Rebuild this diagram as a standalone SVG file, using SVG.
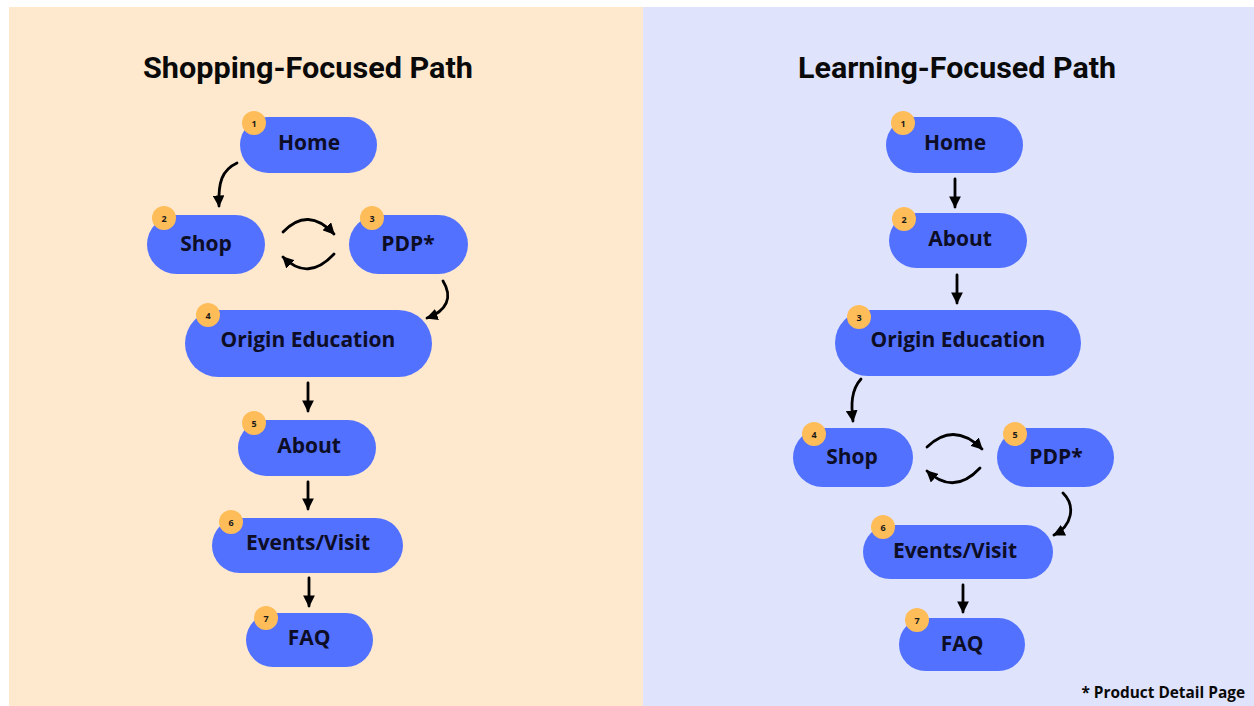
<svg xmlns="http://www.w3.org/2000/svg" width="1254" height="706" viewBox="0 0 1254 706">
  <style>
    .node rect.pill { fill: #5271ff; }
    .node circle { fill: #ffbd59; }
    .label { font-family: "Open Sans", "Liberation Sans", sans-serif; font-weight: 700; font-size: 21px; fill: #0d0d26; text-anchor: middle; dominant-baseline: central; }
    .num { font-family: "Open Sans", "Liberation Sans", sans-serif; font-weight: 700; font-size: 9px; fill: #1a1a1a; text-anchor: middle; dominant-baseline: central; }
    .title { font-family: "Roboto", "Liberation Sans", sans-serif; font-weight: 700; font-size: 30px; fill: #0a0a0a; text-anchor: middle; }
    .conn path, .conn line { fill: none; stroke: #000; stroke-width: 2.8; stroke-linecap: round; marker-end: url(#head); }
  </style>
  <defs>
    <marker id="head" viewBox="0 0 10 10" refX="9" refY="5" markerWidth="4.2" markerHeight="4.2" orient="auto" markerUnits="strokeWidth">
      <path d="M0,0 L10,5 L0,10 Z" fill="#000"/>
    </marker>
  </defs>

  <!-- panels -->
  <rect x="0" y="0" width="1254" height="706" fill="#ffffff"/>
  <rect x="9" y="7" width="634" height="699" fill="#fee9cf"/>
  <rect x="643" y="7" width="611" height="699" fill="#dfe3fc"/>

  <text class="title" x="308" y="78" textLength="330" lengthAdjust="spacingAndGlyphs">Shopping-Focused Path</text>
  <text class="title" x="957" y="78" textLength="318" lengthAdjust="spacingAndGlyphs">Learning-Focused Path</text>

  <!-- shopping path nodes -->
  <g id="s-home" class="node"><rect class="pill" x="240" y="117" width="137" height="56" rx="28"/><circle cx="254" cy="123" r="12"/><text class="num" x="254" y="123">1</text><text class="label" x="309" y="142">Home</text></g>
  <g id="s-shop" class="node"><rect class="pill" x="147" y="215" width="118" height="59" rx="29.5"/><circle cx="164" cy="218" r="12"/><text class="num" x="164" y="218">2</text><text class="label" x="206" y="243">Shop</text></g>
  <g id="s-pdp" class="node"><rect class="pill" x="349" y="215" width="119" height="59" rx="29.5"/><circle cx="372" cy="218" r="12"/><text class="num" x="372" y="218">3</text><text class="label" x="408" y="243">PDP*</text></g>
  <g id="s-origin" class="node"><rect class="pill" x="185" y="310" width="247" height="67" rx="33.5"/><circle cx="208" cy="315" r="12"/><text class="num" x="208" y="315">4</text><text class="label" x="308" y="339">Origin Education</text></g>
  <g id="s-about" class="node"><rect class="pill" x="238" y="420" width="138" height="56" rx="28"/><circle cx="254" cy="423" r="12"/><text class="num" x="254" y="423">5</text><text class="label" x="309" y="445">About</text></g>
  <g id="s-events" class="node"><rect class="pill" x="212" y="518" width="191" height="55" rx="27.5"/><circle cx="231" cy="522" r="12"/><text class="num" x="231" y="522">6</text><text class="label" x="308" y="542">Events/Visit</text></g>
  <g id="s-faq" class="node"><rect class="pill" x="246" y="613" width="127" height="54" rx="27"/><circle cx="266" cy="618" r="12"/><text class="num" x="266" y="618">7</text><text class="label" x="309" y="637">FAQ</text></g>

  <!-- learning path nodes -->
  <g id="l-home" class="node"><rect class="pill" x="886" y="117" width="137" height="56" rx="28"/><circle cx="903" cy="123" r="12"/><text class="num" x="903" y="123">1</text><text class="label" x="955" y="142">Home</text></g>
  <g id="l-about" class="node"><rect class="pill" x="889" y="213" width="138" height="55" rx="27.5"/><circle cx="904" cy="219" r="12"/><text class="num" x="904" y="219">2</text><text class="label" x="960" y="238">About</text></g>
  <g id="l-origin" class="node"><rect class="pill" x="835" y="310" width="246" height="66" rx="33"/><circle cx="859" cy="317" r="12"/><text class="num" x="859" y="317">3</text><text class="label" x="958" y="339">Origin Education</text></g>
  <g id="l-shop" class="node"><rect class="pill" x="793" y="428" width="120" height="59" rx="29.5"/><circle cx="814" cy="434" r="12"/><text class="num" x="814" y="434">4</text><text class="label" x="852" y="456">Shop</text></g>
  <g id="l-pdp" class="node"><rect class="pill" x="997" y="428" width="117" height="59" rx="29.5"/><circle cx="1015" cy="434" r="12"/><text class="num" x="1015" y="434">5</text><text class="label" x="1056" y="456">PDP*</text></g>
  <g id="l-events" class="node"><rect class="pill" x="863" y="525" width="190" height="54" rx="27"/><circle cx="883" cy="527" r="12"/><text class="num" x="883" y="527">6</text><text class="label" x="955" y="550">Events/Visit</text></g>
  <g id="l-faq" class="node"><rect class="pill" x="899" y="618" width="126" height="53" rx="26.5"/><circle cx="917" cy="620" r="12"/><text class="num" x="917" y="620">7</text><text class="label" x="962" y="643">FAQ</text></g>

  <!-- connectors -->
  <g id="connectors" class="conn">
    <path d="M237,163 C222,170 218,182 219,206"/>
    <path d="M283,232 Q308,206 334,234"/>
    <path d="M334,254 Q308,282 283,257"/>
    <path d="M443,281 C453,297 447,311 427,318"/>
    <line x1="308" y1="383" x2="308" y2="411"/>
    <line x1="308" y1="482" x2="308" y2="509"/>
    <line x1="309" y1="578" x2="309" y2="606"/>

    <line x1="955" y1="179" x2="955" y2="207"/>
    <line x1="957" y1="275" x2="957" y2="303"/>
    <path d="M861,379 C851,390 851,405 853,421"/>
    <path d="M927,447 Q954,421 982,449"/>
    <path d="M980,468 Q954,496 927,471"/>
    <path d="M1063,493 C1076,506 1072,526 1054,535"/>
    <line x1="963" y1="585" x2="963" y2="612"/>
  </g>

  <text x="1245" y="698" font-family="'Open Sans', 'Liberation Sans', sans-serif" font-weight="700" font-size="15.4" fill="#0a0a0a" text-anchor="end">* Product Detail Page</text>
</svg>
